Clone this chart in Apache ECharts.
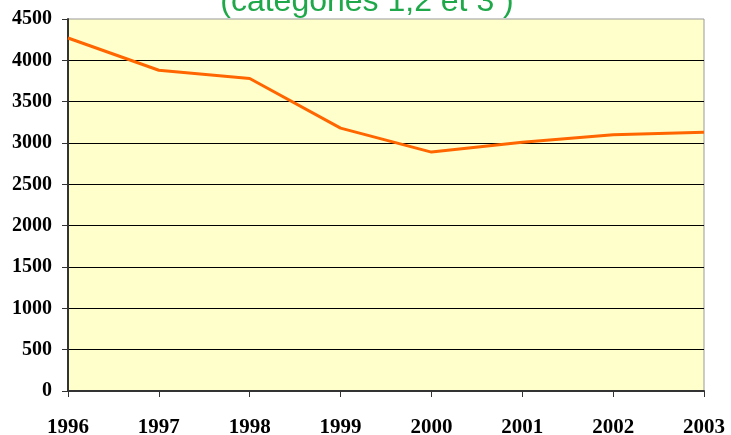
<!DOCTYPE html>
<html>
<head>
<meta charset="utf-8">
<script src="https://cdn.jsdelivr.net/npm/echarts@6/dist/echarts.min.js"></script>
<style>
  html, body { margin: 0; padding: 0; background: #fff; }
  #chart { width: 731px; height: 435px; }
</style>
</head>
<body>
<div id="chart"></div>
<script>
// years on the x axis
const years = ['1996', '1997', '1998', '1999', '2000', '2001', '2002', '2003']
// values
const counts = [4270, 3880, 3780, 3180, 2890, 3010, 3100, 3130]
const titleText = '(catégories 1,2 et 3 )'

const myChart = echarts.init(document.getElementById('chart'))
const serif = '"Liberation Serif", "Times New Roman", serif'
const option = {
  animation: false,
  title: {
    text: titleText,
    left: 362,
    textAlign: 'center',
    top: -19,
    textStyle: {
      fontFamily: '"Liberation Sans", Arial, sans-serif',
      fontWeight: 'normal',
      fontSize: 32,
      color: '#1fa84a'
    }
  },
  grid: {
    left: 68,
    right: 27,
    top: 19,
    bottom: 44,
    outerBoundsMode: 'none',
    show: true,
    backgroundColor: '#FFFFCC',
    borderColor: '#999',
    borderWidth: 1
  },
  xAxis: {
    type: 'category',
    data: years,
    boundaryGap: false,
    axisLine: { lineStyle: { color: '#333', width: 2 } },
    axisTick: { show: true, length: 6, alignWithLabel: true, lineStyle: { color: '#333' } },
    axisLabel: {
      margin: 26,
      interval: 0,
      fontFamily: serif,
      fontWeight: 'bold',
      fontSize: 21,
      color: '#000'
    }
  },
  yAxis: {
    type: 'value',
    min: 0,
    max: 4500,
    interval: 500,
    axisLine: { show: true, lineStyle: { color: '#333', width: 2 } },
    axisTick: { show: true, length: 6, lineStyle: { color: '#333' } },
    axisLabel: {
      margin: 16,
      formatter: (v) => String(v),
      fontFamily: serif,
      fontWeight: 'bold',
      fontSize: 20,
      color: '#000'
    },
    splitLine: { show: true, showMaxLine: false, lineStyle: { color: '#000', width: 1 } }
  },
  series: [{
    type: 'line',
    data: counts,
    symbol: 'none',
    lineStyle: { color: '#FF6600', width: 3 },
    itemStyle: { color: '#FF6600' }
  }]
}
myChart.setOption(option)
</script>
</body>
</html>
